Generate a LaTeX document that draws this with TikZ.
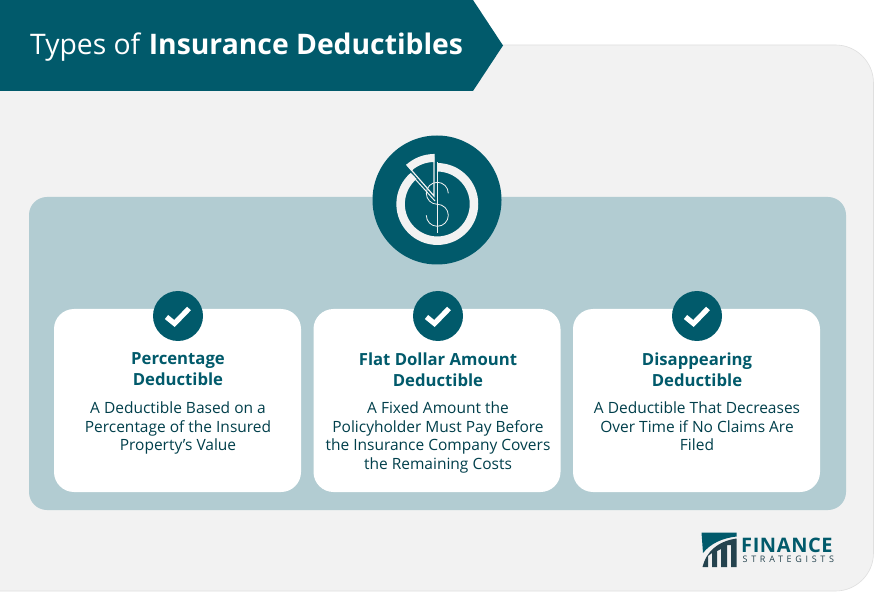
\documentclass[tikz,border=0pt]{standalone}
\usepackage{fontspec}
\setmainfont{Open Sans}
\usetikzlibrary{positioning}
\definecolor{tealdark}{HTML}{015A6B}
\definecolor{panelblue}{HTML}{B2CCD2}
\definecolor{panelgray}{HTML}{F2F2F2}
\definecolor{logodark}{HTML}{24434E}
\begin{document}
\begin{tikzpicture}[x=1pt,y=1pt,node distance=259.5pt,
  card/.style={fill=white,rounded corners=20pt,minimum width=247pt,minimum height=183pt,inner sep=0pt},
  tick circle/.style={circle,fill=tealdark,minimum size=50pt,inner sep=0pt},
  card title/.style={font=\fontsize{16.7}{21}\selectfont\bfseries,text=tealdark,align=center,anchor=north},
  card text/.style={font=\fontsize{15.5}{18.7}\selectfont,text=tealdark!70!black,align=center,anchor=north}]
  \useasboundingbox (0,0) rectangle (875,-593);
  \fill[white] (0,0) rectangle (875,-593);

  % background and banner
  \draw[panelgray!92!black,line width=.6pt,fill=panelgray,rounded corners=38pt] (-40,-45) rectangle (873.5,-591);
  \node[fill=panelblue,rounded corners=18pt,minimum width=817pt,minimum height=313pt,inner sep=0pt] (panel) at (437.5,-353.5) {};
  \fill[tealdark] (0,0) -- (473,0) -- (503,-45.5) -- (473,-91) -- (0,-91) -- cycle;
  \node[anchor=base west,inner sep=0pt,text=white,font=\fontsize{28.3}{32}\selectfont] (title) at (30,-55) {Types of \textbf{Insurance Deductibles}};

  % big icon
  \node[circle,fill=tealdark,minimum size=129pt,inner sep=0pt] (icon) at (437,-200) {};
  \draw[panelgray,line width=8.5pt] (437.3,-167.3) arc (90:-230:36.7);
  \draw[panelgray,line width=8pt] (434.3,-158) arc (90:132:38);
  \draw[panelgray,line width=1.2pt] (434,-154) -- (434,-196) -- (406.5,-164.5);
  \draw[panelgray,line width=1pt] (411.5,-175) -- (435,-201);
  \draw[panelgray,line width=1.2pt] (437.2,-162) -- (437.2,-233);
  \draw[panelgray,line width=.8pt] (448.3,-193.3) arc (0:270:11) arc (90:-180:11);

  % cards
  \node[card] (card1) at (177.5,-400.5) {};
  \node[card,right of=card1] (card2) {};
  \node[card,right of=card2] (card3) {};
  \foreach \n/\cx in {1/178,2/438,3/697}{
    \node[tick circle] (tick\n) at (\cx,-316) {};
    \draw[white,line width=5.2pt] (\cx-11.5,-317) -- (\cx-3.5,-323.5) -- (\cx+11,-308.5);
  }

  \node[card title] (head1) at (178,-349) {Percentage\\Deductible};
  \node[card title] (head2) at (438,-349) {Flat Dollar Amount\\Deductible};
  \node[card title] (head3) at (697,-349) {Disappearing\\Deductible};
  \node[card text] (body1) at (178,-398) {A Deductible Based on a\\Percentage of the Insured\\Property’s Value};
  \node[card text] (body2) at (438,-398) {A Fixed Amount the\\Policyholder Must Pay Before\\the Insurance Company Covers\\the Remaining Costs};
  \node[card text] (body3) at (697,-398) {A Deductible That Decreases\\Over Time if No Claims Are\\Filed};

  % logo
  \fill[tealdark] (701.5,-532.5) -- (736.7,-532.5) -- (736.7,-536.5) .. controls (722,-538) and (710,-544) .. (703,-553) -- cycle;
  \fill[logodark] (702.5,-567) .. controls (706,-552) and (718,-541) .. (736.7,-538.5) -- (736.7,-567) -- (731,-567) -- (731,-545) -- (727,-545) -- (727,-567) -- (721,-567) -- (721,-549) -- (717,-551) -- (717,-567) -- (712,-567) -- (712,-553) -- (708,-556) -- (708,-567) -- cycle;
  \node[anchor=base west,inner sep=0pt,text=tealdark,font=\fontsize{20}{20}\selectfont\bfseries\addfontfeature{LetterSpace=3}] (logoa) at (741,-552) {FINANCE};
  \node[anchor=base west,inner sep=0pt,text=logodark,font=\fontsize{9}{9}\selectfont\addfontfeature{LetterSpace=41}] (logob) at (742.5,-562.5) {STRATEGISTS};
\end{tikzpicture}
\end{document}
